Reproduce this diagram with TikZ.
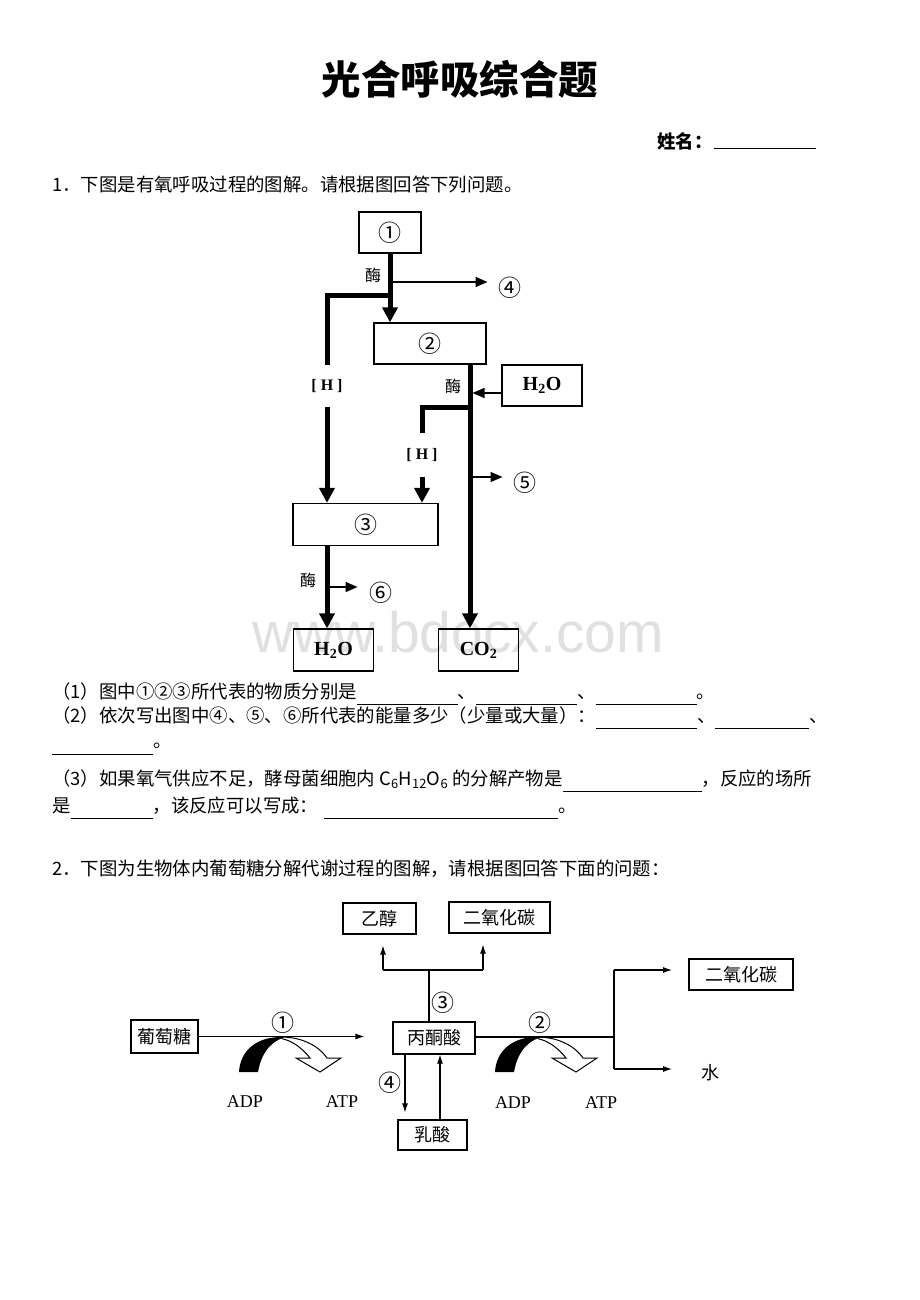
\documentclass[tikz,border=0pt]{standalone}
\usepackage{fontspec}
\setmainfont{Noto Sans CJK SC}
\newfontfamily\tnr{Liberation Serif}
\newfontfamily\wmfont{Liberation Sans}
\usetikzlibrary{arrows.meta}

\newcommand\blank[1]{\rule[-7pt]{#1pt}{0.9pt}}

\tikzset{
  bigbox/.style={draw, line width=1.3pt, inner sep=0pt, font=\fontsize{23}{24}\selectfont},
  chem/.style={font=\tnr\bfseries\fontsize{20}{22}\selectfont},
  hlabel/.style={inner sep=0pt, font=\tnr\bfseries\fontsize{16}{18}\selectfont},
  enz/.style={inner sep=0pt, font=\fontsize{16}{18}\selectfont},
  circ/.style={inner sep=0pt, font=\fontsize{23}{24}\selectfont},
  flow/.style={line width=5pt},
  flowarrow/.style={flow, -{Triangle[length=15pt,width=15pt]}},
  side/.style={line width=1.5pt, -{Triangle[length=12pt,width=10pt]}},
  box2/.style={draw, line width=1.1pt, inner sep=0pt, font=\fontsize{18}{20}\selectfont},
  path2/.style={line width=1.1pt},
  arrow2/.style={path2, -{Latex[length=9pt,width=6pt]}},
  atp/.style={inner sep=0pt, font=\tnr\fontsize{18}{20}\selectfont},
  qline/.style={anchor=west, inner sep=0pt, font=\fontsize{18.4}{22}\selectfont},
}

\begin{document}
\begin{tikzpicture}[x=1pt, y=-1pt]
  \path[use as bounding box, fill=white] (0,0) rectangle (920,1300);
  \node[font=\wmfont\fontsize{57}{60}\selectfont, text=black!12] (wm) at (458,632) {www.bdocx.com};

  % header
  \node[font=\bfseries\fontsize{39.5}{44}\selectfont] (title) at (460,79) {光合呼吸综合题};
  \node[qline, font=\bfseries\fontsize{18.4}{22}\selectfont] (name) at (657,141) {姓名：};
  \draw[line width=1pt] (714,149) -- (816,149);

  % question 1
  \node[qline] (q1) at (52,185) {1．下图是有氧呼吸过程的图解。请根据图回答下列问题。};

  \node[bigbox, minimum width=62pt, minimum height=41pt] (b1) at (390,232.5) {①};
  \node[bigbox, minimum width=112pt, minimum height=41pt] (b2) at (430,343.5) {②};
  \node[bigbox, chem, minimum width=80pt, minimum height=41pt] (w1) at (542,385.5) {H\textsubscript{2}O};
  \node[bigbox, minimum width=145pt, minimum height=42pt] (b3) at (365.5,524.5) {③};
  \node[bigbox, chem, minimum width=80pt, minimum height=42pt] (w2) at (333.5,650) {H\textsubscript{2}O};
  \node[bigbox, chem, minimum width=80pt, minimum height=42pt] (co2) at (478.5,650) {CO\textsubscript{2}};

  \coordinate (j1) at (390,295);
  \coordinate (j2) at (470,407);
  \coordinate (lx) at (327,0);
  \coordinate (rx) at (470,0);
  \node[hlabel, minimum height=42pt] (h1) at (327,386) {[ H ]};
  \node[hlabel, minimum height=44pt] (h2) at (422,455) {[ H ]};

  \draw[flowarrow] (b1.south) -- (b1.south |- b2.north);
  \draw[flow] (j1) -| (h1.north);
  \draw[flowarrow] (h1.south) -- (h1.south |- b3.north);
  \draw[flowarrow] (b2.south -| rx) -- (co2.north -| rx);
  \draw[flow] (j2) -| (h2.north);
  \draw[flowarrow] (h2.south) -- (h2.south |- b3.north);
  \draw[flowarrow] (b3.south -| lx) -- (w2.north -| lx);

  \coordinate (k1) at (472.5,393);
  \draw[side] (w1.west |- k1) -- (k1);

  \node[enz] (m1) at (373,275) {酶};
  \node[enz] (m2) at (453,386) {酶};
  \node[enz] (m3) at (308,580) {酶};

  \coordinate (s4) at (392.5,282);
  \coordinate (s5) at (472.5,477);
  \coordinate (s6) at (329.5,587);
  \draw[side] (s4) -- ++(95,0);
  \draw[side] (s5) -- ++(30,0);
  \draw[side] (s6) -- ++(28,0);
  \node[circ] (n4) at (510,288) {④};
  \node[circ] (n5) at (525,483) {⑤};
  \node[circ] (n6) at (381,593) {⑥};

  % questions
  \node[qline] (a1) at (52,694) {（1）图中①②③所代表的物质分别是\blank{101}、\blank{101}、\blank{101}。};
  \node[qline] (a2) at (52,718) {（2）依次写出图中④、⑤、⑥所代表的能量多少（少量或大量）：\blank{101}、\blank{94}、};
  \node[qline] (a2b) at (52,749) {\blank{101}。};
  \node[qline] (a3) at (52,781) {（3）如果氧气供应不足，酵母菌细胞内 C\textsubscript{6}H\textsubscript{12}O\textsubscript{6} 的分解产物是\blank{139}，反应的场所};
  \node[qline] (a3b) at (52,808) {是\blank{82}，该反应可以写成：\hspace{6pt}\blank{234}。};

  % question 2
  \node[qline] (q2) at (52,869) {2．下图为生物体内葡萄糖分解代谢过程的图解，请根据图回答下面的问题：};

  \node[box2, minimum width=73pt, minimum height=31pt] (eth) at (379.5,918.5) {乙醇};
  \node[box2, minimum width=101pt, minimum height=31pt] (cda) at (499.5,917.5) {二氧化碳};
  \node[box2, minimum width=67pt, minimum height=33pt] (glu) at (164.5,1036.5) {葡萄糖};
  \node[box2, minimum width=82pt, minimum height=32pt] (pyr) at (434,1038) {丙酮酸};
  \node[box2, minimum width=69pt, minimum height=30pt] (lac) at (432.5,1135) {乳酸};
  \node[box2, minimum width=104pt, minimum height=31pt] (cdb) at (741,974.5) {二氧化碳};
  \node[inner sep=0pt, font=\fontsize{18}{20}\selectfont] (wat) at (710,1073) {水};

  % ATP curves
  \foreach \dx in {0,256}{
    \begin{scope}[xshift=\dx pt]
      \fill[black] (239,1072) .. controls (240,1052) and (255,1037) .. (281,1037)
        -- (283,1038) .. controls (276,1040) and (262,1048) .. (258,1072) -- cycle;
      \draw[line width=1pt, fill=white] (281,1037) .. controls (301,1037) and (318,1045) .. (327,1058)
        -- (341,1058) -- (320,1072) -- (296,1058) -- (310,1058)
        .. controls (303,1049) and (293,1041) .. (283,1039) -- cycle;
    \end{scope}
  }

  \coordinate (ju) at (429,970);
  \coordinate (jl) at (383,970);
  \coordinate (jr) at (483,970);
  \coordinate (jk) at (614,1037);
  \coordinate (ka) at (614,970);
  \coordinate (kb) at (614,1069);
  \coordinate (dl) at (405,0);
  \coordinate (ul) at (440,0);

  \draw[path2] (pyr.north -| ju) -- (ju);
  \draw[path2] (jl) -- (jr);
  \draw[arrow2] (jl) -- ([yshift=-11pt]eth.south -| jl);
  \draw[arrow2] (jr) -- ([yshift=-11pt]cda.south -| jr);
  \draw[arrow2] (glu.east) -- ([xshift=-28pt]pyr.west |- glu.east);
  \draw[path2] (pyr.east |- jk) -- (jk);
  \draw[path2] (ka) -- (kb);
  \draw[arrow2] (ka) -- ++(58,0);
  \draw[arrow2] (kb) -- ++(58,0);
  \draw[arrow2] (pyr.south -| dl) -- ([yshift=7pt]lac.north -| dl);
  \draw[arrow2] (lac.north -| ul) -- (pyr.south -| ul);

  \node[circ] (c1) at (283,1023) {①};
  \node[circ] (c2) at (540,1023) {②};
  \node[circ] (c3) at (443,1003) {③};
  \node[circ] (c4) at (390,1083) {④};

  \node[atp] (adp1) at (245,1102) {ADP};
  \node[atp] (atp1) at (342,1102) {ATP};
  \node[atp] (adp2) at (513,1103) {ADP};
  \node[atp] (atp2) at (601,1103) {ATP};
\end{tikzpicture}
\end{document}
